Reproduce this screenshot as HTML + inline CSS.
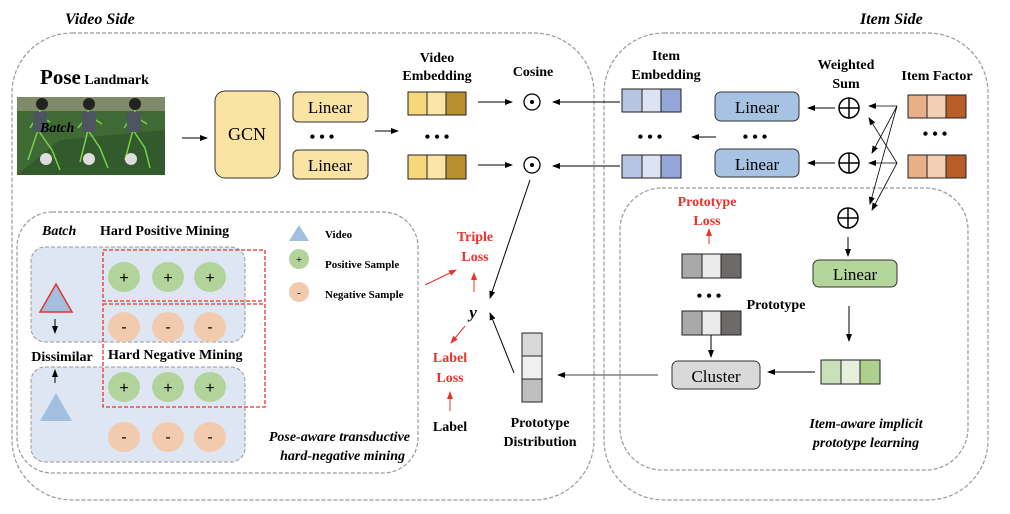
<!DOCTYPE html>
<html><head><meta charset="utf-8"><style>
body{margin:0;background:#fff;}
svg{display:block;font-family:"Liberation Serif",serif;}
.b{font-weight:bold;}
</style></head><body>
<svg width="1010" height="514" viewBox="0 0 1010 514" xmlns="http://www.w3.org/2000/svg">
<defs>
<marker id="a" markerWidth="8" markerHeight="8" refX="7" refY="4" orient="auto" markerUnits="userSpaceOnUse"><path d="M0,1 L8,4 L0,7 Z" fill="#000"/></marker>
<marker id="r" markerWidth="8" markerHeight="8" refX="7" refY="4" orient="auto" markerUnits="userSpaceOnUse"><path d="M0,1 L8,4 L0,7 Z" fill="#e8332a"/></marker>
</defs>
<g fill="none" stroke="#999" stroke-width="1.2" stroke-dasharray="4,2">
<rect x="12" y="33" width="582" height="467" rx="60"/>
<rect x="604" y="33" width="384" height="467" rx="60"/>
<rect x="620" y="188" width="348" height="282" rx="42"/>
<rect x="17" y="212" width="401" height="261" rx="35"/>
</g>
<text x="65" y="24" font-size="16" class="b" font-style="italic">Video Side</text>
<text x="860" y="24" font-size="16" class="b" font-style="italic">Item Side</text>

<text x="40" y="84" class="b"><tspan font-size="21">Pose</tspan><tspan font-size="14"> Landmark</tspan></text>
<g>
<rect x="17" y="97" width="148" height="78" fill="#3f6a34"/>
<rect x="17" y="97" width="148" height="14" fill="#7f8a6a"/>
<path d="M17,175 L60,140 L165,130 L165,175 Z" fill="#335a2c"/>
<g stroke="#7ad04a" stroke-width="1.5" fill="none">
<path d="M40,110 L38,130 L28,160 M38,130 L52,150 L60,170 M38,115 L30,128 M38,115 L50,122"/>
<path d="M88,110 L88,130 L80,162 M88,130 L100,148 L108,168 M88,115 L78,128 M88,115 L102,124"/>
<path d="M135,110 L133,130 L125,160 M133,130 L145,148 L150,168 M133,115 L124,128 M133,115 L147,124"/>
</g>
<g fill="#4d5560"><rect x="33" y="112" width="14" height="20"/><rect x="82" y="112" width="14" height="20"/><rect x="127" y="112" width="14" height="20"/></g>
<circle cx="42" cy="104" r="6" fill="#222"/><circle cx="89" cy="104" r="6" fill="#222"/><circle cx="135" cy="104" r="6" fill="#222"/>
<circle cx="46" cy="159" r="6" fill="#ddd"/><circle cx="89" cy="159" r="6" fill="#ddd"/><circle cx="131" cy="159" r="6" fill="#ddd"/>
<text x="40" y="132" font-size="14" class="b" font-style="italic">Batch</text>
</g>
<line x1="182" y1="138" x2="207" y2="138" stroke="#000" marker-end="url(#a)"/>
<rect x="215" y="91" width="65" height="87" rx="10" fill="#fbe4a3" stroke="#333"/>
<text x="247" y="140" font-size="18" text-anchor="middle">GCN</text>
<rect x="293" y="92" width="75" height="30" rx="5" fill="#fbe4a3" stroke="#333"/>
<text x="330" y="113" font-size="17" text-anchor="middle">Linear</text>
<rect x="293" y="150" width="75" height="29" rx="5" fill="#fbe4a3" stroke="#333"/>
<text x="330" y="171" font-size="17" text-anchor="middle">Linear</text>
<text x="322" y="142" font-size="16" text-anchor="middle" class="b">• • •</text>
<line x1="375" y1="131" x2="398" y2="131" stroke="#000" marker-end="url(#a)"/>
<text x="437" y="62" font-size="14" text-anchor="middle" class="b">Video</text>
<text x="437" y="80" font-size="14" text-anchor="middle" class="b">Embedding</text>
<g stroke="#222">
<rect x="408" y="92" width="19" height="23" fill="#f5d87a"/><rect x="427" y="92" width="19" height="23" fill="#fbe4a8"/><rect x="446" y="92" width="20" height="23" fill="#b8902e"/>
<rect x="408" y="155" width="19" height="24" fill="#f5d87a"/><rect x="427" y="155" width="19" height="24" fill="#fbe4a8"/><rect x="446" y="155" width="20" height="24" fill="#b8902e"/>
</g>
<text x="437" y="142" font-size="16" text-anchor="middle" class="b">• • •</text>
<line x1="478" y1="102" x2="512" y2="102" stroke="#000" marker-end="url(#a)"/>
<line x1="478" y1="165" x2="512" y2="165" stroke="#000" marker-end="url(#a)"/>
<text x="533" y="76" font-size="14" text-anchor="middle" class="b">Cosine</text>
<circle cx="532" cy="102" r="8" fill="none" stroke="#000" stroke-width="1.3"/><circle cx="532" cy="102" r="2" fill="#000"/>
<circle cx="532" cy="165" r="8" fill="none" stroke="#000" stroke-width="1.3"/><circle cx="532" cy="165" r="2" fill="#000"/>
<line x1="620" y1="102" x2="553" y2="102" stroke="#000" marker-end="url(#a)"/>
<line x1="620" y1="166" x2="553" y2="166" stroke="#000" marker-end="url(#a)"/>
<line x1="530" y1="180" x2="490" y2="298" stroke="#000" marker-end="url(#a)"/>

<text x="666" y="60" font-size="14" text-anchor="middle" class="b">Item</text>
<text x="666" y="79" font-size="14" text-anchor="middle" class="b">Embedding</text>
<g stroke="#222">
<rect x="622" y="89" width="20" height="23" fill="#b7c4e4"/><rect x="642" y="89" width="19" height="23" fill="#dde3f3"/><rect x="661" y="89" width="20" height="23" fill="#95a6d8"/>
<rect x="622" y="155" width="20" height="23" fill="#b7c4e4"/><rect x="642" y="155" width="19" height="23" fill="#dde3f3"/><rect x="661" y="155" width="20" height="23" fill="#95a6d8"/>
<rect x="908" y="95" width="19" height="23" fill="#e8b088"/><rect x="927" y="95" width="19" height="23" fill="#f2d0b4"/><rect x="946" y="95" width="20" height="23" fill="#b85c28"/>
<rect x="908" y="155" width="19" height="23" fill="#e8b088"/><rect x="927" y="155" width="19" height="23" fill="#f2d0b4"/><rect x="946" y="155" width="20" height="23" fill="#b85c28"/>
</g>
<text x="650" y="142" font-size="16" text-anchor="middle" class="b">• • •</text>
<text x="755" y="142" font-size="16" text-anchor="middle" class="b">• • •</text>
<text x="935" y="139" font-size="16" text-anchor="middle" class="b">• • •</text>
<line x1="716" y1="137" x2="692" y2="137" stroke="#000" marker-end="url(#a)"/>
<rect x="715" y="92" width="84" height="29" rx="6" fill="#a7c3e3" stroke="#333"/>
<text x="757" y="113" font-size="17" text-anchor="middle">Linear</text>
<rect x="715" y="149" width="84" height="28" rx="6" fill="#a7c3e3" stroke="#333"/>
<text x="757" y="170" font-size="17" text-anchor="middle">Linear</text>
<text x="846" y="69" font-size="14" text-anchor="middle" class="b">Weighted</text>
<text x="846" y="88" font-size="14" text-anchor="middle" class="b">Sum</text>
<text x="937" y="80" font-size="14" text-anchor="middle" class="b">Item Factor</text>
<g fill="none" stroke="#000" stroke-width="1.5">
<circle cx="849" cy="108" r="10"/><path d="M839,108 H859 M849,98 V118"/>
<circle cx="849" cy="163" r="10"/><path d="M839,163 H859 M849,153 V173"/>
<circle cx="848" cy="218" r="10"/><path d="M838,218 H858 M848,208 V228"/>
</g>
<line x1="835" y1="108" x2="808" y2="108" stroke="#000" marker-end="url(#a)"/>
<line x1="835" y1="163" x2="808" y2="163" stroke="#000" marker-end="url(#a)"/>
<g stroke="#000" stroke-width="0.8">
<line x1="897" y1="106" x2="869" y2="106" marker-end="url(#a)"/>
<line x1="897" y1="106" x2="872" y2="153" marker-end="url(#a)"/>
<line x1="897" y1="106" x2="870" y2="204" marker-end="url(#a)"/>
<line x1="897" y1="163" x2="869" y2="163" marker-end="url(#a)"/>
<line x1="897" y1="163" x2="869" y2="118" marker-end="url(#a)"/>
<line x1="897" y1="163" x2="872" y2="210" marker-end="url(#a)"/>
</g>
<line x1="848" y1="237" x2="848" y2="256" stroke="#000" marker-end="url(#a)"/>
<rect x="813" y="260" width="84" height="27" rx="6" fill="#b3d69a" stroke="#333"/>
<text x="855" y="280" font-size="17" text-anchor="middle">Linear</text>
<line x1="849" y1="306" x2="849" y2="341" stroke="#000" marker-end="url(#a)"/>
<g stroke="#222">
<rect x="821" y="360" width="20" height="24" fill="#c9e0b8"/><rect x="841" y="360" width="19" height="24" fill="#e5f0dc"/><rect x="860" y="360" width="20" height="24" fill="#aed08e"/>
<rect x="682" y="254" width="20" height="24" fill="#a9a9a9"/><rect x="702" y="254" width="19" height="24" fill="#ebebeb"/><rect x="721" y="254" width="20" height="24" fill="#6f6a6a"/>
<rect x="682" y="311" width="20" height="24" fill="#a9a9a9"/><rect x="702" y="311" width="19" height="24" fill="#ebebeb"/><rect x="721" y="311" width="20" height="24" fill="#6f6a6a"/>
</g>
<line x1="815" y1="372" x2="768" y2="372" stroke="#000" marker-end="url(#a)"/>
<rect x="672" y="361" width="88" height="28" rx="6" fill="#d9d9d9" stroke="#333"/>
<text x="716" y="382" font-size="17" text-anchor="middle">Cluster</text>
<line x1="711" y1="335" x2="711" y2="357" stroke="#000" marker-end="url(#a)"/>
<text x="709" y="301" font-size="16" text-anchor="middle" class="b">• • •</text>
<text x="776" y="309" font-size="14" text-anchor="middle" class="b">Prototype</text>
<text x="707" y="206" font-size="14" text-anchor="middle" class="b" fill="#e8332a">Prototype</text>
<text x="707" y="225" font-size="14" text-anchor="middle" class="b" fill="#e8332a">Loss</text>
<line x1="709" y1="244" x2="709" y2="229" stroke="#e8332a" marker-end="url(#r)"/>
<text x="866" y="428" font-size="14" text-anchor="middle" class="b" font-style="italic">Item-aware implicit</text>
<text x="866" y="447" font-size="14" text-anchor="middle" class="b" font-style="italic">prototype learning</text>

<line x1="658" y1="375" x2="558" y2="375" stroke="#000" stroke-width="0.8" marker-end="url(#a)"/>
<g stroke="#222"><rect x="522" y="333" width="20" height="23" fill="#d9d9d9"/><rect x="522" y="356" width="20" height="23" fill="#f0f0f0"/><rect x="522" y="379" width="20" height="23" fill="#bfbfbf"/></g>
<line x1="514" y1="373" x2="490" y2="313" stroke="#000" marker-end="url(#a)"/>
<text x="540" y="427" font-size="14" text-anchor="middle" class="b">Prototype</text>
<text x="540" y="446" font-size="14" text-anchor="middle" class="b">Distribution</text>
<text x="475" y="241" font-size="14" text-anchor="middle" class="b" fill="#e8332a">Triple</text>
<text x="475" y="261" font-size="14" text-anchor="middle" class="b" fill="#e8332a">Loss</text>
<line x1="474" y1="292" x2="474" y2="273" stroke="#e8332a" marker-end="url(#r)"/>
<line x1="425" y1="285" x2="456" y2="270" stroke="#e8332a" marker-end="url(#r)"/>
<text x="473" y="318" font-size="17" text-anchor="middle" class="b" font-style="italic">y</text>
<line x1="465" y1="326" x2="451" y2="343" stroke="#e8332a" marker-end="url(#r)"/>
<text x="450" y="362" font-size="14" text-anchor="middle" class="b" fill="#e8332a">Label</text>
<text x="450" y="382" font-size="14" text-anchor="middle" class="b" fill="#e8332a">Loss</text>
<line x1="450" y1="411" x2="450" y2="392" stroke="#e8332a" marker-end="url(#r)"/>
<text x="450" y="431" font-size="14" text-anchor="middle" class="b">Label</text>

<rect x="31" y="247" width="214" height="95" rx="14" fill="#dde6f2" stroke="#999" stroke-dasharray="4,2"/>
<rect x="31" y="367" width="214" height="95" rx="14" fill="#dde6f2" stroke="#999" stroke-dasharray="4,2"/>
<text x="42" y="235" font-size="14" class="b" font-style="italic">Batch</text>
<text x="100" y="235" font-size="14" class="b">Hard Positive Mining</text>
<text x="108" y="359" font-size="14" class="b">Hard Negative Mining</text>
<text x="62" y="361" font-size="14" text-anchor="middle" class="b">Dissimilar</text>
<path d="M56,284 L72,312 L40,312 Z" fill="#a3bfe0" stroke="#e8332a" stroke-width="1.5"/>
<path d="M56,393 L72,421 L40,421 Z" fill="#a3bfe0"/>
<line x1="55" y1="319" x2="55" y2="333" stroke="#000" marker-end="url(#a)"/>
<line x1="55" y1="383" x2="55" y2="370" stroke="#000" marker-end="url(#a)"/>
<g font-size="16" text-anchor="middle" font-family="Liberation Sans,sans-serif">
<ellipse cx="124" cy="277" rx="16" ry="15" fill="#b2d49a"/><ellipse cx="168" cy="277" rx="16" ry="15" fill="#b2d49a"/><ellipse cx="210" cy="277" rx="16" ry="15" fill="#b2d49a"/>
<text x="124" y="283">+</text><text x="168" y="283">+</text><text x="210" y="283">+</text>
<ellipse cx="124" cy="327" rx="16" ry="15" fill="#f2cbae"/><ellipse cx="168" cy="327" rx="16" ry="15" fill="#f2cbae"/><ellipse cx="210" cy="327" rx="16" ry="15" fill="#f2cbae"/>
<text x="124" y="332">-</text><text x="168" y="332">-</text><text x="210" y="332">-</text>
<ellipse cx="124" cy="387" rx="16" ry="15" fill="#b2d49a"/><ellipse cx="168" cy="387" rx="16" ry="15" fill="#b2d49a"/><ellipse cx="210" cy="387" rx="16" ry="15" fill="#b2d49a"/>
<text x="124" y="393">+</text><text x="168" y="393">+</text><text x="210" y="393">+</text>
<ellipse cx="124" cy="437" rx="16" ry="15" fill="#f2cbae"/><ellipse cx="168" cy="437" rx="16" ry="15" fill="#f2cbae"/><ellipse cx="210" cy="437" rx="16" ry="15" fill="#f2cbae"/>
<text x="124" y="442">-</text><text x="168" y="442">-</text><text x="210" y="442">-</text>
</g>
<g fill="none" stroke="#e8332a" stroke-width="1.3" stroke-dasharray="4,2">
<rect x="103" y="250" width="162" height="51"/>
<rect x="103" y="304" width="162" height="103"/>
</g>
<path d="M299,225 L309,241 L289,241 Z" fill="#a3bfe0"/>
<text x="325" y="238" font-size="11" class="b">Video</text>
<ellipse cx="299" cy="259" rx="10" ry="10" fill="#b2d49a"/><text x="299" y="263" font-size="11" text-anchor="middle">+</text>
<text x="325" y="268" font-size="11" class="b">Positive Sample</text>
<ellipse cx="299" cy="292" rx="10" ry="10" fill="#f2cbae"/><text x="299" y="296" font-size="11" text-anchor="middle">-</text>
<text x="325" y="298" font-size="11" class="b">Negative Sample</text>
<text x="410" y="441" font-size="14" text-anchor="end" class="b" font-style="italic">Pose-aware transductive</text>
<text x="405" y="460" font-size="14" text-anchor="end" class="b" font-style="italic">hard-negative mining</text>
</svg>
</body></html>
